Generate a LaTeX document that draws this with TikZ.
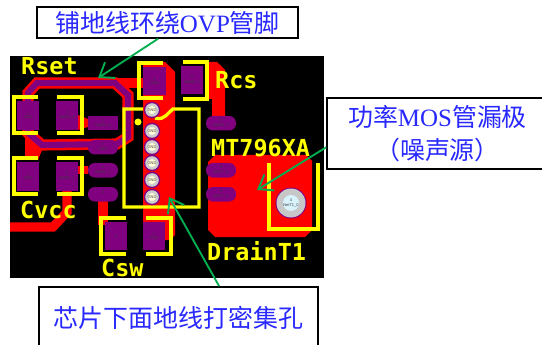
\documentclass[tikz,border=0pt]{standalone}
\usepackage{fontspec}
\setmainfont{Liberation Serif}
\newfontfamily\cjk{Noto Sans CJK SC}
\newfontfamily\silkfont{DejaVu Sans Mono}[BoldFont={DejaVu Sans Mono Bold}]
\newfontfamily\padfont{Liberation Sans}
\usetikzlibrary{arrows.meta,calc}
\definecolor{pcbred}{RGB}{255,0,0}
\definecolor{pcbpurple}{RGB}{128,0,128}
\definecolor{pcbyellow}{RGB}{255,255,0}
\definecolor{callgreen}{RGB}{0,176,80}
\definecolor{callblue}{RGB}{40,40,255}
\tikzset{
	px/.style={x=0.03cm,y=-0.03cm},
	track/.style={draw=pcbred,line width=7.7pt,line join=miter},
	copper/.style={fill=pcbred},
	silk/.style={draw=pcbyellow,line width=2.8pt,line join=miter},
	pad/.style={fill=pcbpurple},
	oval/.style={fill=pcbpurple,rounded corners=5.8pt},
	padlabel/.style={font=\padfont\fontsize{3.4}{4}\selectfont,text=black!75,align=center,inner sep=0pt},
	silklabel/.style={font=\silkfont\bfseries\fontsize{20}{20}\selectfont,text=pcbyellow,anchor=base west,inner sep=0pt},
	callbox/.style={draw=black,line width=1.3pt,fill=white,text=callblue,inner sep=0pt,align=center,
		font=\fontsize{21.3}{28}\selectfont},
	callout/.style={draw=callgreen,line width=1.6pt,-{Straight Barb[length=11pt,width=16pt]}}
}

\begin{document}
\begin{tikzpicture}[px]
	\useasboundingbox (0,0) rectangle (542,345);
	\clip (0,0) rectangle (542,345);

	% board
	\fill[black] (10,56) rectangle (324,278);

	% copper
	\fill[copper] (143,62)--(165,62)--(175,72)--(175,235)--(170,240)--(143,240)--cycle;
	\fill[copper] (100,78)--(143,78)--(143,88)--(100,88)--cycle;
	\fill[copper] (25,130)--(42,150)--(38,160)--(25,160)--cycle;
	\fill[copper] (78,115)--(88,119)--(88,127)--(78,130)--cycle;
	\fill[copper] (78,166)--(88,166)--(88,174)--(78,174)--cycle;
	\fill[copper] (208,162)--(215,155)--(306,155)--(312,161)--(312,230)--(305,237)--(215,237)--(208,230)--cycle;
	\fill[copper] (207,62)--(217,62)--(225,70)--(225,118)--(212,118)--(212,99)--(207,99)--cycle;
	\draw[track] (67,190)--(67,212)--(53,227)--(10,227);
	\draw[track] (103,198)--(103,225);
	\draw[line width=9.5pt,draw=pcbred] (37,83)--(115,83)--(128,95)--(128,137)--(117,144)--(42,145)--(28,133)--(28,93)--cycle;
	\draw[line width=5.2pt,draw=pcbpurple] (37,83)--(115,83)--(128,95)--(128,137)--(117,144)--(42,145)--(28,133)--(28,93)--cycle;

	% pads
	\foreach \x/\y/\name in {17/101/{1\\GND},56/101/{2\\NetR4\_2},17/162/{1\\GND},56/162/{2\\NetR2\_1}} {
		\fill[pad] (\x,\y) rectangle ++(22,29);
		\node[padlabel] at ($(\x,\y)+(11,14)$) {\name};
	}
	\foreach \x/\name in {105/{2},143/{1\\GND}} {
		\fill[pad] (\x,222) rectangle ++(22,28);
		\node[padlabel] at ($(\x,222)+(11,14)$) {\name};
	}
	\fill[pad] (143,67) rectangle (166,95);
	\node[padlabel] at (154.5,81) {1\\GND};
	\fill[pad] (181,66) rectangle (203,94);
	\node[padlabel] at (192,80) {2\\NetR3\_2};
	\fill[pad] (88,116) rectangle (118,130);
	\node[padlabel] at (103,123) {1\\NetR4\_2};
	\foreach \x/\y/\name in {88/140/{7\\GND},88/163/{3\\NetR2\_1},88/187/{4\\},206/116/{6\\NetR3\_1},206/163/{6\\NetT1\_6},206/187/{5\\NetT1\_6}} {
		\fill[oval] (\x,\y) rectangle ++(30,14.5);
		\node[padlabel] at ($(\x,\y)+(15,7)$) {\name};
	}

	% silkscreen
	\draw[silk] (38,97)--(14,97)--(14,133)--(38,133);
	\draw[silk] (57,97)--(82,97)--(82,133)--(57,133);
	\draw[silk] (38,158)--(14,158)--(14,194)--(38,194);
	\draw[silk] (57,158)--(82,158)--(82,194)--(57,194);
	\draw[silk] (126,218)--(101,218)--(101,254)--(126,254);
	\draw[silk] (146,218)--(171,218)--(171,254)--(146,254);
	\draw[silk] (163,63)--(139,63)--(139,98)--(163,98);
	\draw[silk] (183,62)--(207,62)--(207,99)--(183,99);
	\draw[silk] (155,118) .. controls (165,121) and (168,112) .. (173,109)--(199,109)--(199,207)--(124,207)--(124,109)--(143,109);
	\draw[silk] (269,163)--(269,229)--(318,229)--(318,163);
	\fill[pcbyellow] (138,122) circle (3.5);

	% vias
	\foreach \y in {110,131,147,163,180,197} {
		\fill[pcbpurple] (152,\y) circle (8.3);
		\fill[black!20] (152,\y) circle (6.8);
		\fill[yellow!15!white] (152,\y) circle (4);
		\node[padlabel] at (152,\y) {GND};
	}
	\fill[pcbpurple] (291,203) circle (15.5);
	\fill[black!22] (291,203) circle (14.5);
	\fill[cyan!15!white] (291,203) circle (8);
	\node[padlabel] at (291,203) {4\\NetT1\_0};

	% board names
	\node[silklabel] (rset) at (21,75) {Rset};
	\node[silklabel] (rcs) at (215,89) {Rcs};
	\node[silklabel] (chip) at (211,157) {MT796XA};
	\node[silklabel] (drain) at (207,260) {DrainT1};
	\node[silklabel] (cvcc) at (20,218) {Cvcc};
	\node[silklabel] (csw) at (101,276) {Csw};

	% callouts
	\node[callbox,minimum width=7.83cm,minimum height=0.93cm] (ovpbox) at (167.5,22.5) {{\cjk 铺地线环绕}OVP{\cjk 管脚}};
	\node[callbox,minimum width=6.63cm,minimum height=2.13cm] (drainbox) at (437.5,133.5) {{\cjk 功率}MOS{\cjk 管漏极}\\{\cjk （噪声源）}};
	\node[callbox,minimum width=8.37cm,minimum height=1.86cm] (gndbox) at (178.5,318) {\cjk 芯片下面地线打密集孔};

	\coordinate (ovptip) at (98,78);
	\coordinate (draintip) at (257,190);
	\coordinate (gndtip) at (169,197);
	\draw[callout] ($(ovpbox.south west)!0.464!(ovpbox.south east)$)--(ovptip);
	\draw[callout] ($(drainbox.north west)!0.69!(drainbox.south west)$)--(draintip);
	\draw[callout] ($(gndbox.north west)!0.645!(gndbox.north east)$)--(gndtip);
\end{tikzpicture}
\end{document}
